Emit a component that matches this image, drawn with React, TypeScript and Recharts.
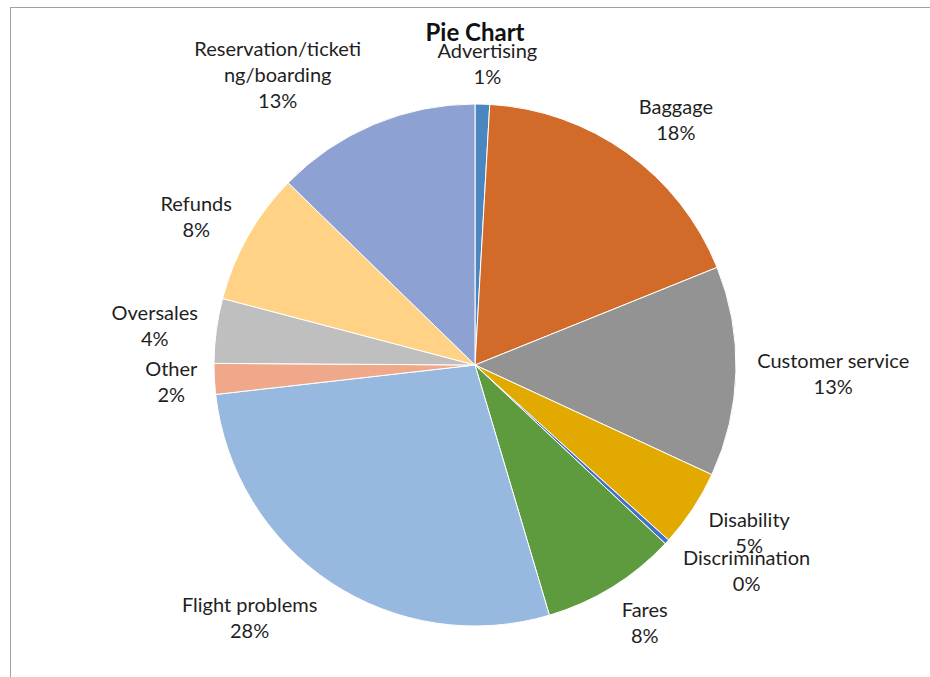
import React from "react";
import { PieChart, Pie, Cell } from "recharts";

const categories = [
  "Advertising",
  "Baggage",
  "Customer service",
  "Disability",
  "Discrimination",
  "Fares",
  "Flight problems",
  "Other",
  "Oversales",
  "Refunds",
  "Reservation/ticketing/boarding",
];
const shares = [0.9, 18.0, 13.0, 4.8, 0.3, 8.4, 27.8, 1.9, 4.0, 8.2, 12.7];
const colors = [
  "#4A86C0",
  "#D26B2A",
  "#939393",
  "#E2AA00",
  "#4472C4",
  "#5E9A3E",
  "#97B8DF",
  "#F0A88A",
  "#BFBFBF",
  "#FFD286",
  "#8EA1D3",
];

const data = categories.map((name, i) => ({ name, value: shares[i] }));

const FONT = "Lato, 'Open Sans', sans-serif";
const FONT_SIZE = 20;
const LINE_H = 26;

let ctx: CanvasRenderingContext2D | null = null;
function measure(t: string): number {
  if (!ctx) {
    const c = document.createElement("canvas");
    ctx = c.getContext("2d");
  }
  if (!ctx) return t.length * 9.5;
  ctx.font = `${FONT_SIZE}px ${FONT}`;
  return ctx.measureText(t).width;
}

function wrap(name: string, maxChars: number): string[] {
  const out: string[] = [];
  let s = name;
  while (s.length > maxChars) {
    out.push(s.slice(0, maxChars));
    s = s.slice(maxChars);
  }
  out.push(s);
  return out;
}

const clamp = (v: number) => Math.max(-1, Math.min(1, v));

const renderLabel = (props: any) => {
  const { cx, cy, midAngle, outerRadius, percent, name } = props;
  const RAD = Math.PI / 180;
  const ux = Math.cos(-midAngle * RAD);
  const uy = Math.sin(-midAngle * RAD);
  const r = outerRadius + 15;
  const ax = cx + r * ux;
  const ay = cy + r * uy;
  const lines = [...wrap(name, 19), `${Math.round(percent * 100)}%`];
  const w = Math.max(...lines.map(measure));
  const h = lines.length * LINE_H;
  const fx = 1.08 * clamp(3 * ux);
  const fy = clamp(1.02 * uy);
  const bx = ax + (fx * w) / 2;
  const by = ay + (fy * h) / 2;
  return (
    <text
      fontFamily={FONT}
      fontSize={FONT_SIZE}
      fill="#1f1f1f"
      textAnchor="middle"
    >
      {lines.map((ln, i) => (
        <tspan
          key={i}
          x={bx}
          y={by - h / 2 + LINE_H * (i + 0.5)}
          dominantBaseline="central"
        >
          {ln}
        </tspan>
      ))}
    </text>
  );
};

export default function App() {
  return (
    <div
      style={{
        position: "absolute",
        left: 0,
        top: 0,
        width: 930,
        height: 677,
        overflow: "hidden",
        background: "#fff",
      }}
    >
      <div
        style={{
          position: "absolute",
          left: 10,
          top: 7,
          width: 1000,
          height: 1000,
          border: "1px solid #A0A0A0",
        }}
      />
      <div
        style={{
          position: "absolute",
          left: 0,
          top: 17,
          width: 950,
          textAlign: "center",
          fontFamily: FONT,
          fontWeight: 700,
          fontSize: 24,
          color: "#111",
          lineHeight: "30px",
        }}
      >
        Pie Chart
      </div>
      <div style={{ position: "absolute", left: 0, top: 0 }}>
        <PieChart
          width={930}
          height={677}
          margin={{ top: 0, right: 0, bottom: 0, left: 0 }}
        >
          <Pie
            data={data}
            dataKey="value"
            nameKey="name"
            cx={475}
            cy={365}
            outerRadius={261}
            startAngle={90}
            endAngle={-270}
            stroke="#ffffff"
            strokeWidth={1}
            label={renderLabel}
            labelLine={false}
            isAnimationActive={false}
          >
            {data.map((d, i) => (
              <Cell key={d.name} fill={colors[i]} />
            ))}
          </Pie>
        </PieChart>
      </div>
    </div>
  );
}
